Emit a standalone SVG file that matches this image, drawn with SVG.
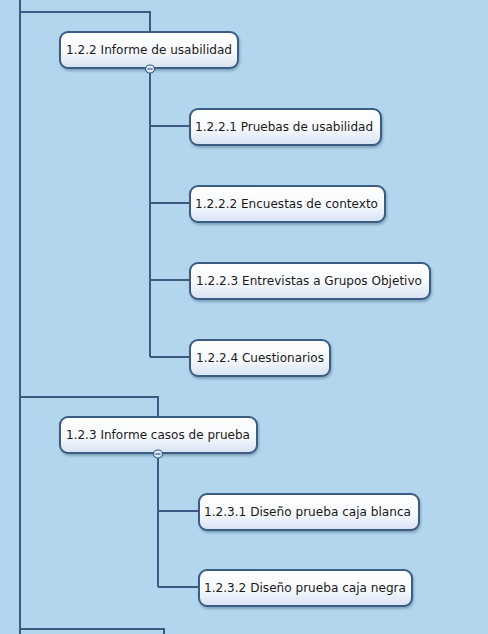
<svg xmlns="http://www.w3.org/2000/svg" width="488" height="634" viewBox="0 0 488 634">
<defs>
<linearGradient id="g" x1="0" y1="0" x2="0" y2="1">
<stop offset="0" stop-color="#ffffff"/>
<stop offset="0.55" stop-color="#f7f9fd"/>
<stop offset="1" stop-color="#d6e2f2"/>
</linearGradient>
<filter id="sh" x="-10%" y="-20%" width="120%" height="150%">
<feDropShadow dx="1" dy="2" stdDeviation="1.2" flood-color="#2a4060" flood-opacity="0.35"/>
</filter>
</defs>
<style>
.n rect{fill:url(#g);stroke:#3b5b83;stroke-width:2;filter:url(#sh)}
.n text{font-family:"DejaVu Sans",Verdana,sans-serif;font-size:12px;fill:#1a1a1a}
.c{fill:none;stroke:#3b5b83;stroke-width:2}
.t{fill:#dfe9f5;stroke:#3b5b83;stroke-width:1.2}
</style>
<rect width="488" height="634" fill="#b2d6ee"/>
<g id="connectors">
<path class="c" d="M20 0V634"/>
<path class="c" d="M20 12H150V32"/>
<path class="c" d="M150 69V357"/>
<path class="c" d="M150 126H190M150 203H190M150 280H190M150 357H190"/>
<path class="c" d="M20 397H158V417"/>
<path class="c" d="M158 454V587"/>
<path class="c" d="M158 511H199M158 587H199"/>
<path class="c" d="M20 629H164V634"/>
</g>
<g id="n122" class="n">
<rect x="60" y="32" width="178" height="36" rx="8"/>
<text x="66" y="54" textLength="166" lengthAdjust="spacingAndGlyphs">1.2.2 Informe de usabilidad</text>
<ellipse class="t" cx="150" cy="69" rx="4.5" ry="4"/>
<path d="M147.5 69H152.5" stroke="#3b5b83" stroke-width="1.2"/>
</g>
<g id="n1221" class="n">
<rect x="190" y="109" width="191" height="36" rx="8"/>
<text x="195" y="131" textLength="178" lengthAdjust="spacingAndGlyphs">1.2.2.1 Pruebas de usabilidad</text>
</g>
<g id="n1222" class="n">
<rect x="190" y="186" width="195" height="36" rx="8"/>
<text x="195" y="208" textLength="183" lengthAdjust="spacingAndGlyphs">1.2.2.2 Encuestas de contexto</text>
</g>
<g id="n1223" class="n">
<rect x="190" y="263" width="240" height="36" rx="8"/>
<text x="196" y="285" textLength="226" lengthAdjust="spacingAndGlyphs">1.2.2.3 Entrevistas a Grupos Objetivo</text>
</g>
<g id="n1224" class="n">
<rect x="190" y="340" width="140" height="36" rx="8"/>
<text x="196" y="362" textLength="128" lengthAdjust="spacingAndGlyphs">1.2.2.4 Cuestionarios</text>
</g>
<g id="n123" class="n">
<rect x="60" y="417" width="197" height="36" rx="8"/>
<text x="66" y="439" textLength="184" lengthAdjust="spacingAndGlyphs">1.2.3 Informe casos de prueba</text>
<ellipse class="t" cx="158" cy="454" rx="4.5" ry="4"/>
<path d="M155.5 454H160.5" stroke="#3b5b83" stroke-width="1.2"/>
</g>
<g id="n1231" class="n">
<rect x="199" y="494" width="220" height="36" rx="8"/>
<text x="204" y="516" textLength="207" lengthAdjust="spacingAndGlyphs">1.2.3.1 Diseño prueba caja blanca</text>
</g>
<g id="n1232" class="n">
<rect x="199" y="570" width="213" height="36" rx="8"/>
<text x="204" y="592" textLength="202" lengthAdjust="spacingAndGlyphs">1.2.3.2 Diseño prueba caja negra</text>
</g>
</svg>
